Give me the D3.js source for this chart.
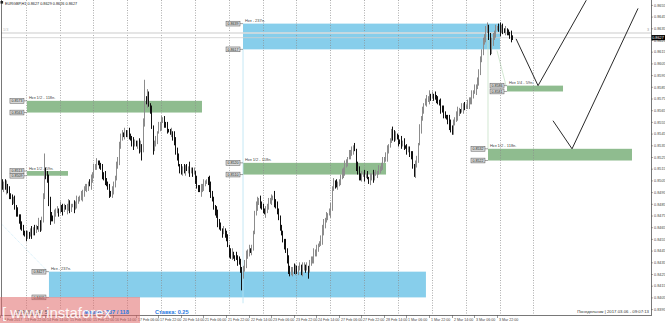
<!DOCTYPE html>
<html>
<head>
<meta charset="utf-8">
<title>EURGBP H1</title>
<script src="https://d3js.org/d3.v7.min.js"></script>
<style>
  * { margin: 0; padding: 0; }
  body { background: #fff; overflow: hidden; }
  svg { display: block; font-family: 'Liberation Sans', Arial, sans-serif; }
</style>
</head>
<body>
<script>
// hourly closes in pips (price x 10000), bar 0 = 13 Feb 06:00
const closes = [
  8502, 8499, 8503, 8498, 8500, 8496, 8493, 8490, 8487, 8489,
  8482, 8478, 8475, 8471, 8468, 8464, 8461, 8458, 8457, 8460,
  8458, 8461, 8460, 8463, 8462, 8465, 8464, 8468, 8466, 8470,
  8492, 8515, 8510, 8505, 8488, 8476, 8474, 8471, 8476, 8479,
  8480, 8478, 8482, 8481, 8480, 8483, 8481, 8482, 8484, 8481,
  8483, 8484, 8482, 8485, 8487, 8488, 8491, 8492, 8495, 8497,
  8498, 8500, 8503, 8502, 8505, 8510, 8515, 8518, 8521, 8520,
  8517, 8515, 8511, 8508, 8505, 8502, 8498, 8495, 8494, 8497,
  8501, 8508, 8516, 8523, 8534, 8543, 8545, 8543, 8546, 8544,
  8546, 8544, 8540, 8537, 8536, 8538, 8535, 8536, 8533, 8535,
  8530, 8555, 8575, 8572, 8578, 8570, 8565, 8550, 8532, 8536,
  8540, 8546, 8550, 8553, 8556, 8557, 8554, 8551, 8548, 8547,
  8545, 8546, 8544, 8537, 8531, 8524, 8518, 8516, 8513, 8515,
  8513, 8516, 8514, 8516, 8513, 8514, 8511, 8512, 8506, 8500,
  8498, 8496, 8497, 8500, 8502, 8503, 8505, 8504, 8500, 8494,
  8488, 8483, 8479, 8475, 8470, 8466, 8463, 8461, 8462, 8460,
  8455, 8449, 8444, 8441, 8442, 8440, 8439, 8438, 8436, 8435,
  8430, 8424, 8428, 8435, 8440, 8444, 8446, 8444, 8447, 8460,
  8478, 8484, 8486, 8488, 8485, 8482, 8480, 8477, 8479, 8483,
  8486, 8488, 8490, 8491, 8487, 8483, 8480, 8472, 8465, 8460,
  8454, 8450, 8444, 8437, 8430, 8425, 8428, 8430, 8428, 8431,
  8427, 8429, 8431, 8428, 8430, 8432, 8429, 8430, 8428, 8433,
  8437, 8439, 8442, 8444, 8446, 8449, 8452, 8455, 8462, 8468,
  8471, 8474, 8476, 8478, 8481, 8498, 8504, 8502, 8500, 8502,
  8505, 8507, 8510, 8514, 8518, 8521, 8524, 8526, 8528, 8530,
  8533, 8531, 8518, 8512, 8509, 8507, 8509, 8511, 8508, 8510,
  8507, 8505, 8507, 8509, 8508, 8510, 8511, 8512, 8514, 8515,
  8518, 8521, 8524, 8526, 8530, 8534, 8540, 8546, 8544, 8542,
  8543, 8541, 8539, 8538, 8536, 8537, 8534, 8533, 8531, 8532,
  8529, 8525, 8516, 8512, 8518, 8524, 8536, 8548, 8557, 8564,
  8570, 8572, 8574, 8575, 8577, 8576, 8578, 8577, 8576, 8574,
  8573, 8570, 8567, 8565, 8562, 8560, 8558, 8556, 8553, 8550,
  8548, 8553, 8558, 8561, 8563, 8565, 8564, 8566, 8568, 8567,
  8569, 8571, 8572, 8574, 8577, 8580, 8583, 8586, 8590, 8598,
  8608, 8616, 8622, 8628, 8633, 8637, 8628, 8617, 8622, 8627,
  8631, 8634, 8636, 8635, 8633, 8636, 8634, 8632, 8633, 8631,
  8630, 8629, 8628, 8627
];
const firstOpen = 8500;

// wick lengths in pips, one digit per bar
const wickUp = ('2413524132 3241523142 1352421534 2413532142 3152421354 2142531423 4213524131 2341522413 ' +
  '3152423142 2413521354 1342531423 3152423141 2413524132 4231522413 1352421354 2314523142 2413521534 ' +
  '3142524132 1352423142 4231524132 2153423142 1342531524 3152421354 2413523142 1352421534 2413524131 ' +
  '3142523142 2413521354 4231524132 2153421534 1342523142 3152421354 2413521534 1342524132 3152421354 ' +
  '2413523142 3241524132').replace(/\s/g, '');
const wickDn = ('3241524132 2413523142 3152421354 1342524132 2413521534 3152421354 1342523142 2153421534 ' +
  '4231524132 2413521354 3142523142 2413524131 1352421534 2413523142 3152421354 1342531524 2153423142 ' +
  '4231524132 1352423142 3142524132 2413521534 2314523142 1352421354 4231522413 2413524132 3152423141 ' +
  '1342531423 2413521354 3152423142 4213524131 2142531423 3152421354 2413532142 1352421534 3241523142 ' +
  '2413524132 1352423142').replace(/\s/g, '');

// [bar, high, low] for the long wicks
const spikes = [
  [31, 8528, null], [35, null, 8467], [100, null, 8522], [102, 8591, null],
  [108, null, 8527], [171, null, 8411], [218, null, 8421], [293, null, 8508],
  [320, null, 8544], [345, 8640, null], [347, null, 8612]
];

const timeLabels = ['13 Feb 2017', '13 Feb 22:00', '14 Feb 14:00', '15 Feb 06:00', '15 Feb 22:00',
  '16 Feb 14:00', '17 Feb 06:00', '17 Feb 22:00', '20 Feb 14:00', '21 Feb 06:00', '21 Feb 22:00',
  '22 Feb 14:00', '23 Feb 06:00', '23 Feb 22:00', '24 Feb 14:00', '27 Feb 06:00', '27 Feb 22:00',
  '28 Feb 14:00', '1 Mar 06:00', '1 Mar 22:00', '2 Mar 14:00', '3 Mar 06:00', '3 Mar 22:00'];
const gridBars = [18, 42, 66, 90, 114, 138, 162, 186, 210, 234, 258, 282, 306, 330, 354, 378];
const priceTicks = [8655, 8645, 8635, 8625, 8615, 8605, 8595, 8585, 8575, 8565, 8555, 8545, 8535, 8525,
  8515, 8505, 8495, 8485, 8475, 8465, 8455, 8445, 8435, 8425, 8415, 8405, 8395];

// zones
const zoneText = ['Нкз - 237п.', 'Нкз - 237п.', 'Нкз 1/2 - 118п.', 'Нкз 1/2 - 59п.', 'Нкз 1/2 - 118п.', 'Нкз 1/4 - 59п.', 'Нкз 1/2 - 118п.'];
const zoneKind = ['blue', 'blue', 'green', 'green', 'green', 'green', 'green'];
const zoneFrom = [172.1, 34.5, 18.9, 18.9, 172.1, 359.3, 345.8];
const zoneTo = [354.3, 301.8, 143, 48, 273.5, 399, 447.9];
const zoneHigh = [8639, 8427, 8573, 8513, 8520, 8586, 8532];
const zoneLow = [8617, 8405, 8563, 8509, 8510, 8581, 8522];

// forecast paths [bar, price]
const forecastA = [[365.7, 8626], [381.3, 8586], [415.5, 8659]];
const forecastB = [[391.9, 8556], [405.4, 8532], [452.2, 8652]];

const currentPrice = 8627;
const levelLines = [8631, 8627];

const width = 665, height = 323;
const plotLeft = 1, plotRight = 651, plotBottom = 315;

const x = d3.scaleLinear().domain([0, 378]).range([0.3, 533.4]);
const y = d3.scaleLinear().domain([8395, 8655]).range([309.1, 4.9]);
const fmt = (p) => (p / 10000).toFixed(4);

const svg = d3.select('body').append('svg').attr('width', width).attr('height', height);
svg.append('defs').append('clipPath').attr('id', 'plot')
  .append('rect').attr('x', plotLeft).attr('y', 0).attr('width', plotRight - plotLeft).attr('height', plotBottom);

const plot = svg.append('g').attr('clip-path', 'url(#plot)');

// zone rectangles
const colors = { blue: '#87ceeb', green: '#8fbc8f' };
plot.append('g').selectAll('rect').data(zoneText).join('rect')
  .attr('x', (d, i) => x(zoneFrom[i]))
  .attr('y', (d, i) => y(zoneHigh[i]))
  .attr('width', (d, i) => x(zoneTo[i]) - x(zoneFrom[i]))
  .attr('height', (d, i) => y(zoneLow[i]) - y(zoneHigh[i]))
  .attr('fill', (d, i) => colors[zoneKind[i]]);

// thin helper lines
plot.append('line').attr('x1', x(172.1)).attr('x2', x(172.1)).attr('y1', y(8617)).attr('y2', y(8400))
  .attr('stroke', '#b8e2f4').attr('stroke-width', 0.8);
plot.append('line').attr('x1', x(345.8)).attr('x2', x(345.8)).attr('y1', y(8638)).attr('y2', y(8532))
  .attr('stroke', '#c6e2c6').attr('stroke-width', 0.8);
plot.append('line').attr('x1', x(352.2)).attr('x2', x(358.6)).attr('y1', y(8616)).attr('y2', y(8586))
  .attr('stroke', '#c6e2c6').attr('stroke-width', 0.8);
plot.append('line').attr('x1', x(-0.2)).attr('x2', x(33.8)).attr('y1', y(8469)).attr('y2', y(8427))
  .attr('stroke', '#b8e2f4').attr('stroke-width', 0.7).attr('stroke-dasharray', '1,1');

// grid
plot.append('g').selectAll('line').data(gridBars).join('line')
  .attr('x1', (d) => Math.round(x(d)) + 0.5).attr('x2', (d) => Math.round(x(d)) + 0.5)
  .attr('y1', 0).attr('y2', plotBottom)
  .attr('stroke', '#8a8a8a').attr('stroke-width', 0.7).attr('stroke-dasharray', '1,1.5');

// level lines
plot.append('line').attr('x1', plotLeft).attr('x2', plotRight).attr('y1', y(levelLines[0])).attr('y2', y(levelLines[0]))
  .attr('stroke', '#dcdcdc').attr('stroke-width', 1.5);
plot.append('line').attr('x1', plotLeft).attr('x2', plotRight).attr('y1', y(levelLines[1])).attr('y2', y(levelLines[1]))
  .attr('stroke', '#cfcfcf').attr('stroke-width', 0.8);
svg.append('text').attr('x', 3).attr('y', y(levelLines[0]) - 1.5).attr('font-size', 3.8).attr('fill', '#bbb').text('1/3');
svg.append('text').attr('x', 647).attr('y', y(levelLines[0]) - 1.5).attr('font-size', 3.8).attr('fill', '#999').text('3');

// candles
const bars = closes.map((c, i) => {
  const o = i === 0 ? firstOpen : closes[i - 1];
  let h = Math.max(o, c) + Number(wickUp[i] || 0);
  let l = Math.min(o, c) - Number(wickDn[i] || 0);
  const s = spikes.find((k) => k[0] === i);
  if (s && s[1] !== null) h = s[1];
  if (s && s[2] !== null) l = s[2];
  return { i, o, h, l, c };
});
const candle = plot.append('g').selectAll('g').data(bars).join('g');
candle.append('line')
  .attr('x1', (d) => Math.round(x(d.i)) + 0.5).attr('x2', (d) => Math.round(x(d.i)) + 0.5)
  .attr('y1', (d) => y(d.h)).attr('y2', (d) => y(d.l))
  .attr('stroke', (d) => d.c >= d.o ? '#8c8c8c' : '#111').attr('stroke-width', 1);
candle.append('rect')
  .attr('x', (d) => Math.round(x(d.i)))
  .attr('y', (d) => Math.min(y(d.o), y(d.c)))
  .attr('width', 1)
  .attr('height', (d) => Math.max(1, Math.abs(y(d.o) - y(d.c))))
  .attr('fill', (d) => d.c >= d.o ? '#8c8c8c' : '#111');

// forecast lines
const line = d3.line().x((d) => x(d[0])).y((d) => y(d[1]));
[forecastA, forecastB].forEach((f) => {
  plot.append('path').attr('d', line(f)).attr('fill', 'none').attr('stroke', '#111').attr('stroke-width', 0.9);
});

// zone labels and price tags
zoneText.forEach((t, i) => {
  const x0 = x(zoneFrom[i]);
  svg.append('text').attr('x', x0 + 2).attr('y', y(zoneHigh[i]) - 1.5)
    .attr('font-size', 4).attr('fill', '#444').text(t);
  [zoneHigh[i], zoneLow[i]].forEach((p) => {
    const yy = y(p);
    svg.append('line').attr('x1', x0 - 3).attr('x2', x0).attr('y1', yy).attr('y2', yy)
      .attr('stroke', '#666').attr('stroke-width', 0.6);
    svg.append('rect').attr('x', x0 - 17).attr('y', yy - 2.4).attr('width', 14).attr('height', 4.8)
      .attr('fill', '#d9d9d9').attr('stroke', '#555').attr('stroke-width', 0.5);
    svg.append('text').attr('x', x0 - 10).attr('y', yy + 1.3).attr('text-anchor', 'middle')
      .attr('font-size', 3.6).attr('fill', '#222').text(fmt(p));
  });
});

// right price axis
const yAxis = svg.append('g').attr('transform', `translate(${plotRight},0)`)
  .call(d3.axisRight(y).tickValues(priceTicks).tickSize(2).tickFormat(fmt));
yAxis.select('.domain').remove();
yAxis.selectAll('line').attr('stroke', '#555').attr('stroke-width', 0.5);
yAxis.selectAll('text').attr('font-size', 3.8).attr('fill', '#444').attr('x', 3);

// current price tag
svg.append('rect').attr('x', plotRight).attr('y', y(currentPrice) - 2.6).attr('width', 14).attr('height', 5.2).attr('fill', '#000');
svg.append('text').attr('x', plotRight + 7).attr('y', y(currentPrice) + 1.4).attr('text-anchor', 'middle')
  .attr('font-size', 3.8).attr('fill', '#fff').text(fmt(currentPrice));

// bottom time axis
const tg = svg.append('g').selectAll('g').data(timeLabels).join('g')
  .attr('transform', (d, i) => `translate(${Math.round(x(i * 16)) + 0.5},${plotBottom})`);
tg.append('line').attr('y1', 0).attr('y2', 3).attr('stroke', '#555').attr('stroke-width', 0.6);
tg.append('text').attr('x', 1.5).attr('y', 6.2).attr('font-size', 3.6).attr('fill', '#444').text((d) => d);

// borders
svg.append('line').attr('x1', plotLeft).attr('x2', plotRight).attr('y1', plotBottom + 0.5).attr('y2', plotBottom + 0.5)
  .attr('stroke', '#555').attr('stroke-width', 0.8);
svg.append('line').attr('x1', plotRight + 0.5).attr('x2', plotRight + 0.5).attr('y1', 0).attr('y2', plotBottom + 1)
  .attr('stroke', '#555').attr('stroke-width', 0.8);
svg.append('line').attr('x1', plotLeft + 0.5).attr('x2', plotLeft + 0.5).attr('y1', 0).attr('y2', plotBottom + 1)
  .attr('stroke', '#555').attr('stroke-width', 0.8);

// header
svg.append('rect').attr('x', 0.5).attr('y', 1).attr('width', 2.6).attr('height', 2.6).attr('fill', '#222');
svg.append('text').attr('x', 5).attr('y', 4.5).attr('font-size', 3.8).attr('fill', '#222')
  .text('EURGBP,H1  0.8627 0.8629 0.8626 0.8627');

// info texts
svg.append('text').attr('x', 649).attr('y', 313).attr('text-anchor', 'end').attr('font-size', 4.3).attr('fill', '#333')
  .text('Понедельник | 2017.03.06 - 09:07:13');
svg.append('text').attr('x', 155).attr('y', 313.5).attr('font-size', 5.6).attr('font-weight', 'bold').attr('fill', '#2a7ae2')
  .text('Ставка: 0.25');

// watermark
svg.append('rect').attr('x', 0).attr('y', 297).attr('width', 140).attr('height', 26).attr('fill', '#e06a6a').attr('opacity', 0.55);
svg.append('text').attr('x', 15).attr('y', 313.5).attr('font-size', 5).attr('fill', '#555').text('ATR(20) 24 / 5');
svg.append('text').attr('x', 84).attr('y', 313.5).attr('font-size', 5.6).attr('font-weight', 'bold').attr('fill', '#2a7ae2')
  .text('Маржа: 237 / 118');
svg.append('text').attr('x', 2).attr('y', 318).attr('font-size', 15).attr('fill', '#fff').attr('opacity', 0.9)
  .text('[ www.instaforex');
</script>
</body>
</html>
